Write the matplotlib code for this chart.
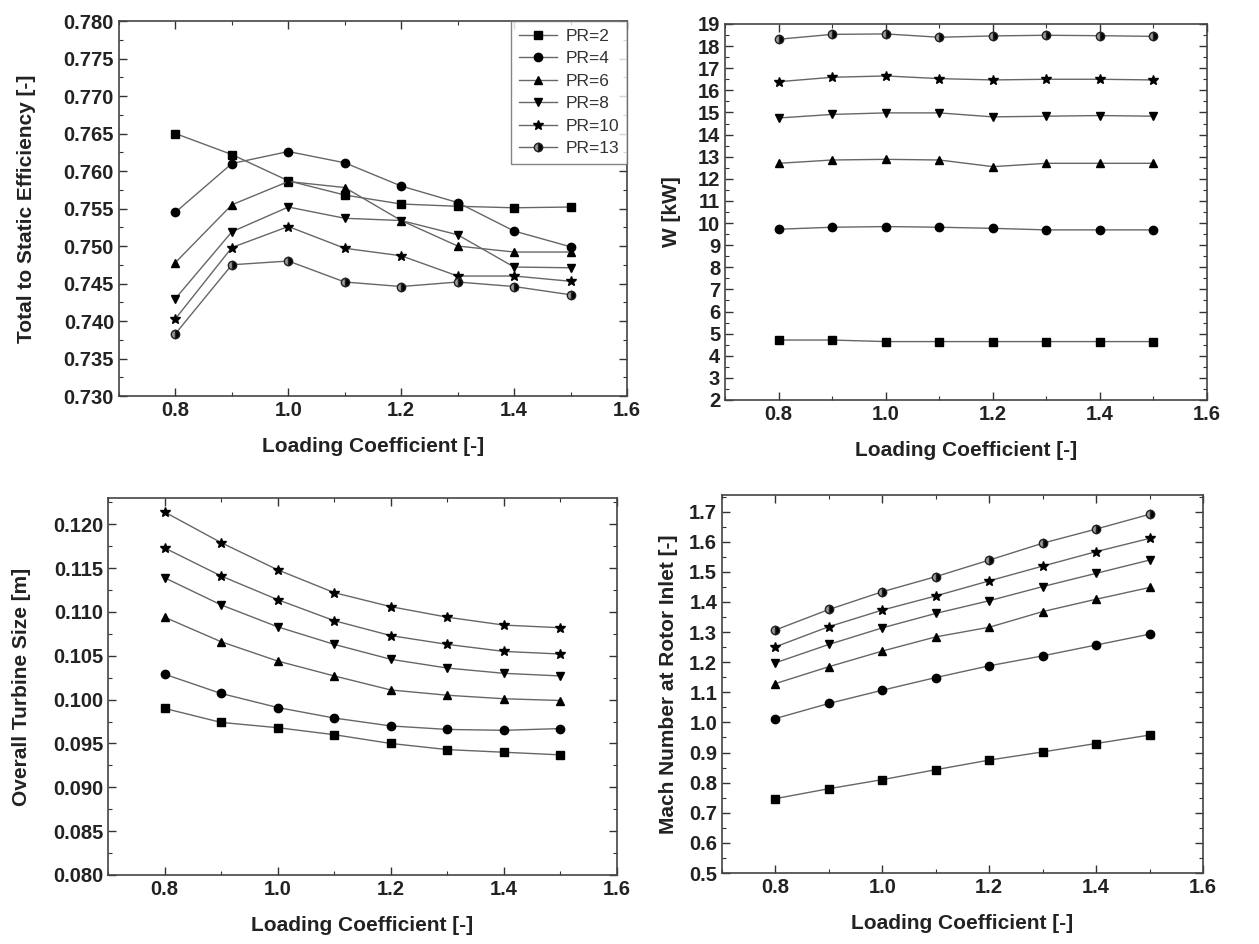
import numpy as np
import matplotlib
matplotlib.use("Agg")
import matplotlib.pyplot as plt
from matplotlib.ticker import MultipleLocator, FormatStrFormatter

plt.rcParams['font.family'] = ['Liberation Sans', 'DejaVu Sans']

# loading coefficient
psi = [0.8, 0.9, 1.0, 1.1, 1.2, 1.3, 1.4, 1.5]
labels = ["PR=2", "PR=4", "PR=6", "PR=8", "PR=10", "PR=13"]

# total to static efficiency
eff_pr2 = [0.7650, 0.7622, 0.7587, 0.7568, 0.7556, 0.7553, 0.7551, 0.7552]
eff_pr4 = [0.7545, 0.7610, 0.7626, 0.7611, 0.7580, 0.7558, 0.7520, 0.7499]
eff_pr6 = [0.7478, 0.7555, 0.7586, 0.7578, 0.7534, 0.7500, 0.7492, 0.7492]
eff_pr8 = [0.7430, 0.7519, 0.7552, 0.7537, 0.7534, 0.7515, 0.7472, 0.7471]
eff_pr10 = [0.7403, 0.7498, 0.7526, 0.7497, 0.7487, 0.7460, 0.7460, 0.7453]
eff_pr13 = [0.7383, 0.7475, 0.7480, 0.7452, 0.7446, 0.7452, 0.7446, 0.7435]

# power W [kW]
w_pr2 = [4.71, 4.71, 4.64, 4.64, 4.64, 4.64, 4.64, 4.64]
w_pr4 = [9.72, 9.81, 9.84, 9.81, 9.76, 9.69, 9.69, 9.69]
w_pr6 = [12.70, 12.85, 12.88, 12.85, 12.55, 12.70, 12.70, 12.70]
w_pr8 = [14.75, 14.91, 14.98, 14.98, 14.80, 14.83, 14.86, 14.83]
w_pr10 = [16.39, 16.59, 16.65, 16.53, 16.47, 16.50, 16.50, 16.47]
w_pr13 = [18.31, 18.53, 18.55, 18.40, 18.46, 18.49, 18.47, 18.44]

# overall turbine size [m]
size_pr2 = [0.0990, 0.0974, 0.0968, 0.0960, 0.0950, 0.0943, 0.0940, 0.0937]
size_pr4 = [0.1029, 0.1007, 0.0991, 0.0979, 0.0970, 0.0966, 0.0965, 0.0967]
size_pr6 = [0.1094, 0.1066, 0.1044, 0.1027, 0.1011, 0.1005, 0.1001, 0.0999]
size_pr8 = [0.1139, 0.1108, 0.1083, 0.1063, 0.1046, 0.1036, 0.1030, 0.1027]
size_pr10 = [0.1173, 0.1141, 0.1114, 0.1090, 0.1073, 0.1063, 0.1055, 0.1052]
size_pr13 = [0.1214, 0.1179, 0.1148, 0.1122, 0.1106, 0.1094, 0.1085, 0.1082]

# mach number at rotor inlet
mach_pr2 = [0.747, 0.780, 0.810, 0.843, 0.875, 0.902, 0.930, 0.958]
mach_pr4 = [1.013, 1.063, 1.107, 1.149, 1.188, 1.221, 1.257, 1.293]
mach_pr6 = [1.129, 1.185, 1.237, 1.284, 1.316, 1.368, 1.409, 1.448]
mach_pr8 = [1.198, 1.259, 1.314, 1.362, 1.404, 1.451, 1.495, 1.539]
mach_pr10 = [1.251, 1.318, 1.373, 1.420, 1.470, 1.519, 1.567, 1.611]
mach_pr13 = [1.307, 1.375, 1.434, 1.484, 1.539, 1.595, 1.642, 1.691]

markers = ['s', 'o', '^', 'v', '*', 'o']


def draw(ax, series, mk, ylabel, ylim, major, minor, fmt, ypad=8):
	for i, y in enumerate(series):
		kw = dict(color='#666666', lw=1.0, marker=mk[i], ms=6,
				  mfc='black', mec='black', label=labels[i])
		if i == 5 and mk[i] == 'o':
			kw.update(fillstyle='right', mfc='black', mfcalt='#9a9a9a', mec='#222222')
		if mk[i] == '*':
			kw['ms'] = 7.5
		ax.plot(psi, y, **kw)
	ax.set_xlim(0.7, 1.6)
	ax.set_ylim(*ylim)
	ax.xaxis.set_major_locator(MultipleLocator(0.2))
	ax.xaxis.set_minor_locator(MultipleLocator(0.1))
	ax.yaxis.set_major_locator(MultipleLocator(major))
	ax.yaxis.set_minor_locator(MultipleLocator(minor))
	ax.xaxis.set_major_formatter(FormatStrFormatter('%.1f'))
	ax.yaxis.set_major_formatter(FormatStrFormatter(fmt))
	ax.tick_params(which='both', direction='in', top=True, right=True,
				   colors='#333333', labelcolor='#222222')
	ax.tick_params(which='major', length=6, width=1.0, labelsize=14.5)
	ax.tick_params(which='minor', length=3, width=0.8)
	for lab in ax.get_xticklabels() + ax.get_yticklabels():
		lab.set_fontweight('bold')
	for sp in ax.spines.values():
		sp.set_color('#444444')
		sp.set_linewidth(1.2)
	ax.set_xlabel("Loading Coefficient [-]", fontsize=15, fontweight='bold', color='#222222', labelpad=12)
	ax.set_ylabel(ylabel, fontsize=15, fontweight='bold', color='#222222', labelpad=ypad)


fig = plt.figure(figsize=(12.59, 9.44), dpi=100)

ax1 = fig.add_axes([0.0945, 0.5805, 0.4035, 0.3972])
draw(ax1, [eff_pr2, eff_pr4, eff_pr6, eff_pr8, eff_pr10, eff_pr13], markers,
	 "Total to Static Efficiency [-]", (0.730, 0.780), 0.005, 0.0025, '%.3f', ypad=20)
leg = ax1.legend(loc='upper right', borderaxespad=0, fontsize=12.5, frameon=True,
				 fancybox=False, edgecolor='#666666', handlelength=2.2,
				 labelspacing=0.42, borderpad=0.45, handletextpad=0.5)
leg.get_frame().set_linewidth(1.0)
for t in leg.get_texts():
	t.set_color('#333333')

ax2 = fig.add_axes([0.5759, 0.5763, 0.3828, 0.3983])
draw(ax2, [w_pr2, w_pr4, w_pr6, w_pr8, w_pr10, w_pr13], markers,
	 "W [kW]", (2, 19), 1, 0.5, '%d', ypad=12)

ax3 = fig.add_axes([0.0858, 0.0731, 0.4043, 0.3994])
draw(ax3, [size_pr2, size_pr4, size_pr6, size_pr8, size_pr10, size_pr13],
	 ['s', 'o', '^', 'v', '*', '*'],
	 "Overall Turbine Size [m]", (0.080, 0.123), 0.005, 0.0025, '%.3f', ypad=16)

ax4 = fig.add_axes([0.5735, 0.0752, 0.3820, 0.4004])
draw(ax4, [mach_pr2, mach_pr4, mach_pr6, mach_pr8, mach_pr10, mach_pr13], markers,
	 "Mach Number at Rotor Inlet [-]", (0.5, 1.755), 0.1, 0.05, '%.1f', ypad=8)

fig.savefig("out.png", dpi=100)
